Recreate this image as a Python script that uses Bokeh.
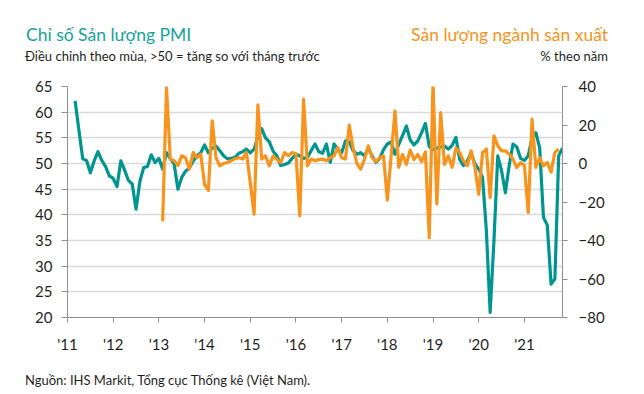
from bokeh.plotting import figure
from bokeh.models import Range1d, LinearAxis, FixedTicker, Div
from bokeh.layouts import column
from bokeh.embed import file_html
from bokeh.resources import INLINE

# PMI output index (left axis), monthly from Mar 2011
pmi_first_month = (2011, 3)
pmi_output = [
    62.2, 56.5, 50.9, 50.6, 48.2, 50.5, 52.3, 50.6, 49.4, 47.6,          # 2011 Mar-Dec
    47.1, 45.5, 50.5, 48.7, 46.7, 46.0, 41.1, 46.5, 49.2, 49.4, 51.7, 50.2,  # 2012
    51.0, 48.9, 52.1, 51.0, 49.9, 45.0, 47.3, 48.5, 49.1, 50.5, 51.5, 52.1,  # 2013
    53.6, 52.1, 53.0, 53.4, 52.5, 51.5, 50.9, 51.0, 51.2, 52.0, 52.3, 52.8,  # 2014
    52.1, 52.8, 55.2, 56.8, 55.0, 54.2, 52.4, 51.5, 49.6, 49.8, 50.1, 51.0,  # 2015
    51.8, 51.5, 51.0, 51.2, 52.5, 53.8, 52.3, 52.0, 53.8, 50.2, 53.8, 52.8,  # 2016
    52.1, 54.4, 54.2, 52.5, 51.8, 52.1, 51.5, 52.9, 51.5, 50.2, 51.0, 52.7,  # 2017
    53.8, 54.2, 51.8, 53.7, 55.5, 57.3, 54.6, 53.6, 54.4, 56.0, 57.8, 53.3,  # 2018
    52.7, 53.0, 53.2, 53.4, 52.8, 53.5, 55.1, 50.8, 49.6, 50.5, 52.1, 49.9,  # 2019
    48.9, 47.3, 37.0, 21.0, 35.0, 51.5, 48.6, 44.3, 49.6, 53.8, 53.2, 51.0,  # 2020
    50.6, 51.5, 55.0, 56.0, 53.1, 39.5, 38.0, 26.5, 27.5, 51.5, 53.0,        # 2021 Jan-Nov
]

# Manufacturing output, % y/y (right axis), monthly from Feb 2013
ip_first_month = (2013, 2)
ip_yoy = [
    -30.0, 39.5, 2.3, 1.4, -1.0, 4.0, 3.0, -2.9, 5.7, 3.0, 4.8,          # 2013 Feb-Dec
    -11.0, -14.0, 22.2, 3.0, -1.2, 0.0, 0.5, 1.4, 2.5, 3.0, 2.3, 5.7,    # 2014
    -10.0, -26.3, 30.5, 2.3, 4.0, -1.2, 4.0, 2.0, 0.5, 5.7, 4.0, 5.7,    # 2015
    5.0, -27.2, 33.4, -1.2, 2.3, 1.4, 2.0, 2.3, 1.4, 3.0, 4.0, 8.3,      # 2016
    3.0, 2.3, 20.0, 8.3, 0.0, -2.9, 2.3, 9.2, 3.0, 1.0, 3.0, 4.0,        # 2017
    -19.0, 4.0, 27.2, -2.0, 4.7, -0.5, 7.0, 2.0, 4.7, 1.0, 6.0, -38.5,   # 2018
    42.0, -21.0, 26.5, -0.5, 4.0, -2.0, 8.0, 5.7, 1.4, -1.2, 6.6, -2.0,  # 2019
    -16.0, 5.7, 7.5, -17.7, 14.4, 9.2, 6.6, 6.6, 4.8, 2.3, -2.1, 0.5,    # 2020
    -1.0, -25.5, 23.0, -2.0, 3.0, -1.2, 0.5, -4.5, 5.7, 7.5,             # 2021 Jan-Oct
]

year_ticks = list(range(2011, 2022))
year_labels = ["'11", "'12", "'13", "'14", "'15", "'16", "'17", "'18", "'19", "'20", "'21"]
left_ticks = [20, 25, 30, 35, 40, 45, 50, 55, 60, 65]
right_ticks = [-80, -60, -40, -20, 0, 20, 40]

title_left = "Chỉ số Sản lượng PMI"
subtitle_left = "Điều chỉnh theo mùa, >50 = tăng so với tháng trước"
title_right = "Sản lượng ngành sản xuất"
subtitle_right = "% theo năm"
source_text = "Nguồn: IHS Markit, Tổng cục Thống kê (Việt Nam)."

TEAL = "#00968f"
TEAL_TITLE = "#17a19b"
ORANGE = "#f7941d"
TEXT = "#1f1f1f"
FONT = "Lato"
AX = "#8f8f8f"

W = 644
TOP_H = 70
BOTTOM_H = 24
FIG_H = 394 - TOP_H - BOTTOM_H


def month_positions(first, n):
    y, mo = first
    return [y + (mo - 1 + i) / 12.0 for i in range(n)]


pmi_x = month_positions(pmi_first_month, len(pmi_output))
ip_x = month_positions(ip_first_month, len(ip_yoy))

p = figure(
    width=W, height=FIG_H,
    output_backend="svg", toolbar_location=None,
    x_range=Range1d(2011, pmi_x[-1]),
    y_range=Range1d(20, 65),
    min_border_left=67, min_border_right=82,
    min_border_top=16, min_border_bottom=FIG_H - 16 - 231,
    margin=0,
)
p.extra_y_ranges = {"ip": Range1d(-80, 40)}
p.outline_line_color = None
p.background_fill_color = "white"
p.border_fill_color = "white"

# left axis
ly = p.yaxis[0]
ly.ticker = FixedTicker(ticks=left_ticks)
ly.axis_line_color = AX
ly.major_tick_line_color = AX
ly.major_tick_out = 6
ly.major_tick_in = 0
ly.minor_tick_line_color = None
ly.major_label_standoff = 9
ly.major_label_text_font = FONT
ly.major_label_text_font_size = "15px"
ly.major_label_text_color = TEXT

# x axis
xa = p.xaxis[0]
xa.ticker = FixedTicker(ticks=year_ticks)
xa.major_label_overrides = {t: l for t, l in zip(year_ticks, year_labels)}
xa.axis_line_color = AX
xa.major_tick_line_color = AX
xa.major_tick_out = 5
xa.major_tick_in = 0
xa.minor_tick_line_color = None
xa.major_label_standoff = 12
xa.major_label_text_font = FONT
xa.major_label_text_font_size = "15px"
xa.major_label_text_color = TEXT

# right axis
ry = LinearAxis(y_range_name="ip", ticker=FixedTicker(ticks=right_ticks))
ry.axis_line_color = AX
ry.major_tick_line_color = AX
ry.major_tick_out = 5
ry.major_tick_in = 0
ry.minor_tick_line_color = None
ry.major_label_standoff = 11
ry.major_label_text_font = FONT
ry.major_label_text_font_size = "15px"
ry.major_label_text_color = TEXT
p.add_layout(ry, "right")

p.xgrid.visible = False
p.ygrid.ticker = FixedTicker(ticks=left_ticks)
p.ygrid.grid_line_color = "#dadada"
p.ygrid.grid_line_width = 1.5

p.line(pmi_x, pmi_output, line_color=TEAL, line_width=3.2, line_join="round")
p.line(ip_x, ip_yoy, line_color=ORANGE, line_width=3.2, line_join="round", y_range_name="ip")


def span(text, left=None, right=None, top=0, size=13, color=TEXT):
    pos = f"left:{left}px;" if left is not None else f"right:{right}px;"
    return (f'<span style="position:absolute;{pos}top:{top}px;font-size:{size}px;'
            f'line-height:{size}px;color:{color};white-space:nowrap;">{text}</span>')


top_html = (
    f'<div style="position:relative;width:{W}px;height:{TOP_H}px;font-family:{FONT};">'
    + span(title_left, left=26, top=26, size=17.5, color=TEAL_TITLE)
    + span(subtitle_left, left=25, top=50, size=13)
    + span(title_right, right=W - 608, top=26, size=17.5, color=ORANGE)
    + span(subtitle_right, right=W - 608, top=50, size=13)
    + '</div>'
)
bottom_html = (
    f'<div style="position:relative;width:{W}px;height:{BOTTOM_H}px;font-family:{FONT};">'
    + span(source_text, left=25, top=4, size=13)
    + '</div>'
)

top_div = Div(text=top_html, width=W, height=TOP_H, margin=0)
bottom_div = Div(text=bottom_html, width=W, height=BOTTOM_H, margin=0)

layout = column(top_div, p, bottom_div, spacing=0, margin=0)

open("out.html", "w").write(file_html(layout, INLINE))
